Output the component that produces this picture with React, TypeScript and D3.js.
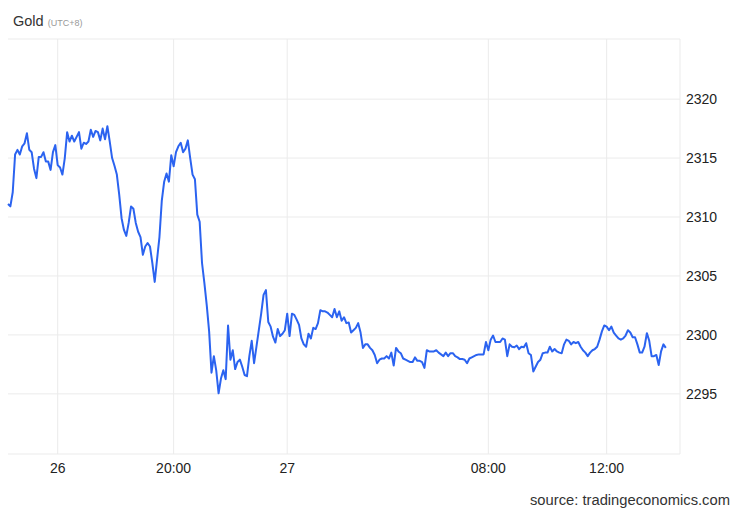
import React, { useEffect, useRef } from 'react';
import * as d3 from 'd3';

// gold price, one sample per step
const prices: number[] = [
  2311.1, 2310.9, 2312.1, 2315.3, 2315.7, 2315.3, 2316.0, 2316.25, 2317.1, 2315.7,
  2315.5, 2314.1, 2313.3, 2315.1, 2315.1, 2315.5, 2314.7, 2314.7, 2314.0, 2315.5,
  2316.1, 2314.4, 2314.2, 2313.6, 2315.0, 2317.2, 2316.4, 2316.9, 2316.4, 2316.8,
  2317.2, 2315.8, 2316.3, 2316.2, 2316.4, 2317.4, 2316.8, 2317.3, 2317.2, 2316.5,
  2317.5, 2316.6, 2317.7, 2316.4, 2315.0, 2314.35, 2313.6, 2311.9, 2309.9, 2308.9,
  2308.4, 2309.5, 2310.9, 2310.7, 2309.5, 2308.75, 2308.3, 2306.8, 2307.5, 2307.8,
  2307.5, 2306.1, 2304.5, 2306.4, 2308.3, 2311.4, 2313.0, 2313.7, 2313.0, 2315.25,
  2314.3, 2315.5, 2316.0, 2316.3, 2315.5, 2315.8, 2316.5, 2315.0, 2313.6, 2313.2,
  2310.2, 2309.6, 2306.1, 2304.4, 2302.5, 2300.3, 2296.8, 2298.2, 2297.0, 2295.05,
  2296.3, 2297.0, 2296.25, 2300.8, 2297.9, 2298.7, 2297.1, 2297.7, 2297.9, 2297.3,
  2296.6, 2296.5, 2298.2, 2299.5, 2297.6, 2299.0, 2300.4, 2301.8, 2303.4, 2303.8,
  2301.1, 2300.7, 2299.85, 2299.35, 2300.5, 2299.9, 2300.1, 2300.4, 2301.8, 2299.9,
  2301.8, 2301.7, 2301.3, 2300.85, 2299.7, 2299.2, 2299.0, 2300.1, 2299.7, 2300.6,
  2300.5, 2301.0, 2302.1, 2302.0, 2302.0, 2301.9, 2301.7, 2301.5, 2302.2, 2301.5,
  2302.0, 2301.2, 2301.5, 2301.0, 2301.05, 2300.2, 2300.4, 2300.6, 2301.0, 2300.2,
  2298.9, 2299.2, 2299.2, 2298.9, 2298.7, 2298.3, 2297.6, 2297.9, 2298.0, 2298.0,
  2298.2, 2298.0, 2298.5, 2297.4, 2298.9, 2298.6, 2298.45, 2298.0, 2297.9, 2297.8,
  2297.7, 2297.7, 2298.1, 2297.8, 2297.8, 2297.7, 2297.2, 2298.7, 2298.6, 2298.6,
  2298.6, 2298.7, 2298.5, 2298.35, 2298.2, 2298.5, 2298.2, 2298.45, 2298.45, 2298.2,
  2298.1, 2297.95, 2297.95, 2297.9, 2297.6, 2298.0, 2298.1, 2298.2, 2298.3, 2298.35,
  2298.35, 2298.35, 2299.4, 2298.7, 2299.6, 2299.95, 2299.4, 2299.4, 2299.4, 2299.7,
  2299.6, 2298.2, 2299.2, 2299.0, 2298.95, 2299.1, 2298.8, 2299.0, 2298.95, 2299.3,
  2298.45, 2298.3, 2296.9, 2297.3, 2297.7, 2297.9, 2298.45, 2298.5, 2298.5, 2299.0,
  2298.6, 2298.8, 2298.6, 2298.5, 2298.45, 2299.2, 2299.6, 2299.5, 2299.2, 2299.4,
  2299.3, 2299.4, 2299.0, 2298.7, 2298.5, 2298.2, 2298.5, 2298.7, 2298.8, 2299.0,
  2299.6, 2300.3, 2300.8, 2300.7, 2300.4, 2300.7, 2300.2, 2299.95, 2299.7, 2299.6,
  2299.7, 2299.95, 2300.4, 2300.2, 2299.8, 2299.8, 2299.2, 2298.5, 2298.5, 2299.0,
  2300.15, 2299.5, 2298.2, 2298.2, 2298.3, 2297.45, 2298.6, 2299.2, 2298.9,
];

// x axis: sample index where each label sits
const xTickIndex: number[] = [21, 70, 118, 203, 253];
const xTickLabels: string[] = ['26', '20:00', '27', '08:00', '12:00'];

const yTicks: number[] = [2295, 2300, 2305, 2310, 2315, 2320];

const FONT = '"Liberation Sans", Arial, Helvetica, sans-serif';

const App = () => {
  const chartRef = useRef<HTMLDivElement>(null);

  useEffect(() => {
    const width = 740;
    const height = 513;
    const plot = { left: 8, right: 680, top: 39, bottom: 454 };

    const svg = d3.select(chartRef.current)
      .append('svg')
      .attr('width', width)
      .attr('height', height)
      .style('position', 'absolute')
      .style('left', '0px')
      .style('top', '0px')
      .style('background', '#fff');

    const xScale = d3.scaleLinear()
      .domain([0, 284])
      .range([plot.left, plot.right]);

    const yScale = d3.scaleLinear()
      .domain([2289.9, 2325.1])
      .range([plot.bottom, plot.top]);

    // title
    const title = svg.append('text')
      .attr('x', 13)
      .attr('y', 26)
      .style('font-family', FONT);
    title.append('tspan')
      .attr('font-size', 14.5)
      .attr('fill', '#333')
      .text('Gold');
    title.append('tspan')
      .attr('dx', 4)
      .attr('font-size', 9)
      .attr('fill', '#999')
      .text('(UTC+8)');

    const grid = '#ebebeb';

    // frame
    svg.append('line')
      .attr('x1', plot.left).attr('x2', plot.right)
      .attr('y1', plot.top).attr('y2', plot.top)
      .attr('stroke', grid);
    svg.append('line')
      .attr('x1', plot.left).attr('x2', plot.right)
      .attr('y1', plot.bottom).attr('y2', plot.bottom)
      .attr('stroke', grid);
    svg.append('line')
      .attr('x1', plot.right).attr('x2', plot.right)
      .attr('y1', plot.top).attr('y2', plot.bottom)
      .attr('stroke', grid);

    // horizontal grid + right labels
    svg.selectAll('.ygrid')
      .data(yTicks)
      .enter()
      .append('line')
      .attr('class', 'ygrid')
      .attr('x1', plot.left).attr('x2', plot.right)
      .attr('y1', d => yScale(d)).attr('y2', d => yScale(d))
      .attr('stroke', grid);

    svg.selectAll('.ylabel')
      .data(yTicks)
      .enter()
      .append('text')
      .attr('class', 'ylabel')
      .attr('x', plot.right + 6)
      .attr('y', d => yScale(d))
      .attr('dy', '0.35em')
      .attr('font-size', 14)
      .attr('fill', '#222')
      .style('font-family', FONT)
      .text(d => d);

    // vertical grid + bottom labels
    svg.selectAll('.xgrid')
      .data(xTickIndex)
      .enter()
      .append('line')
      .attr('class', 'xgrid')
      .attr('x1', d => xScale(d)).attr('x2', d => xScale(d))
      .attr('y1', plot.top).attr('y2', plot.bottom)
      .attr('stroke', grid);

    svg.selectAll('.xlabel')
      .data(xTickIndex)
      .enter()
      .append('text')
      .attr('class', 'xlabel')
      .attr('x', d => xScale(d))
      .attr('y', plot.bottom + 14)
      .attr('dy', '0.35em')
      .attr('text-anchor', 'middle')
      .attr('font-size', 14)
      .attr('fill', '#222')
      .style('font-family', FONT)
      .text((d, i) => xTickLabels[i]);

    // price line
    const line = d3.line<number>()
      .x((d, i) => xScale(i))
      .y(d => yScale(d));

    svg.append('path')
      .datum(prices)
      .attr('d', line)
      .attr('fill', 'none')
      .attr('stroke', '#2b63f0')
      .attr('stroke-width', 2)
      .attr('stroke-linejoin', 'round');

    // source
    svg.append('text')
      .attr('x', 730)
      .attr('y', 505)
      .attr('text-anchor', 'end')
      .attr('font-size', 14.75)
      .attr('fill', '#333')
      .style('font-family', FONT)
      .text('source: tradingeconomics.com');

    return () => {
      d3.select(chartRef.current).select('svg').remove();
    };
  }, []);

  return <div ref={chartRef}></div>;
};

export default App;
